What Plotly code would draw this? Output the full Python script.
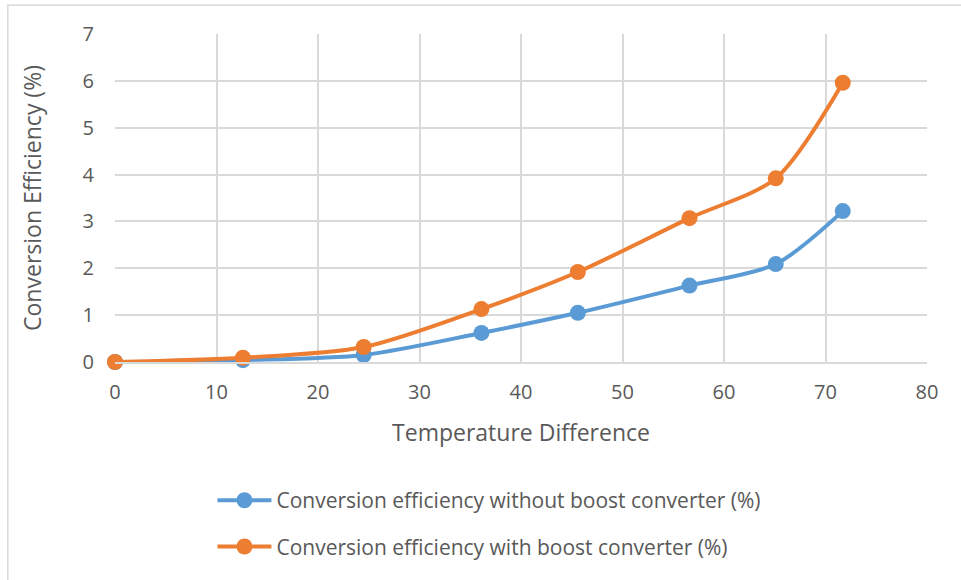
import plotly.graph_objects as go

# Temperature difference (x) and conversion efficiency (%) for both setups
temp_diff = [0, 12.6, 24.5, 36.1, 45.6, 56.6, 65.1, 71.7]
eff_without_boost = [0, 0.04, 0.15, 0.62, 1.05, 1.63, 2.09, 3.22]
eff_with_boost = [0, 0.09, 0.32, 1.13, 1.92, 3.07, 3.92, 5.96]

x_ticks = [0, 10, 20, 30, 40, 50, 60, 70, 80]
y_ticks = [0, 1, 2, 3, 4, 5, 6, 7]

FONT = "Open Sans"
TEXT = "#595959"
GRID = "#d9d9d9"

fig = go.Figure()
fig.add_trace(go.Scatter(
    x=temp_diff, y=eff_without_boost, mode="lines+markers",
    name="Conversion efficiency without boost converter (%)",
    legendgroup="without", cliponaxis=False,
    line=dict(color="#5b9bd5", width=4, shape="spline", smoothing=0.8),
    marker=dict(color="#5b9bd5", size=16),
))
fig.add_trace(go.Scatter(
    x=temp_diff, y=eff_with_boost, mode="lines+markers",
    name="Conversion efficiency with boost converter (%)",
    legendgroup="with", cliponaxis=False,
    line=dict(color="#ed7d31", width=4, shape="spline", smoothing=0.8),
    marker=dict(color="#ed7d31", size=16),
))

# Outer chart frame (top and left edges)
fig.add_shape(type="line", xref="paper", yref="paper",
              x0=-0.133, x1=1.2, y0=1.088, y1=1.088,
              line=dict(color=GRID, width=1.5))
fig.add_shape(type="line", xref="paper", yref="paper",
              x0=-0.132, x1=-0.132, y0=1.088, y1=-0.75,
              line=dict(color=GRID, width=1.5))

fig.update_layout(
    width=961, height=580,
    margin=dict(l=115, r=34, t=34, b=218),
    paper_bgcolor="white", plot_bgcolor="white",
    font=dict(family=FONT, color=TEXT, size=20),
    showlegend=True,
    legend=dict(
        orientation="v", x=0.12, y=-0.36, xanchor="left", yanchor="top",
        font=dict(family=FONT, size=21, color=TEXT),
        tracegroupgap=16, itemwidth=54,
    ),
    xaxis=dict(
        range=[0, 80], tickvals=x_ticks, showgrid=True, gridcolor=GRID, gridwidth=1.5,
        zeroline=False, showline=True, linecolor=GRID, linewidth=1.5,
        ticks="", ticklabelstandoff=11,
        title=dict(text="Temperature Difference", font=dict(size=23, color=TEXT), standoff=21),
        tickfont=dict(size=20, color=TEXT),
    ),
    yaxis=dict(
        range=[0, 7], tickvals=y_ticks, showgrid=True, gridcolor=GRID, gridwidth=1.5,
        zeroline=False, showline=False,
        ticks="", ticklabelstandoff=20,
        title=dict(text="Conversion Efficiency (%)", font=dict(size=23, color=TEXT), standoff=34),
        tickfont=dict(size=20, color=TEXT),
    ),
)

fig.write_html("out.html")
